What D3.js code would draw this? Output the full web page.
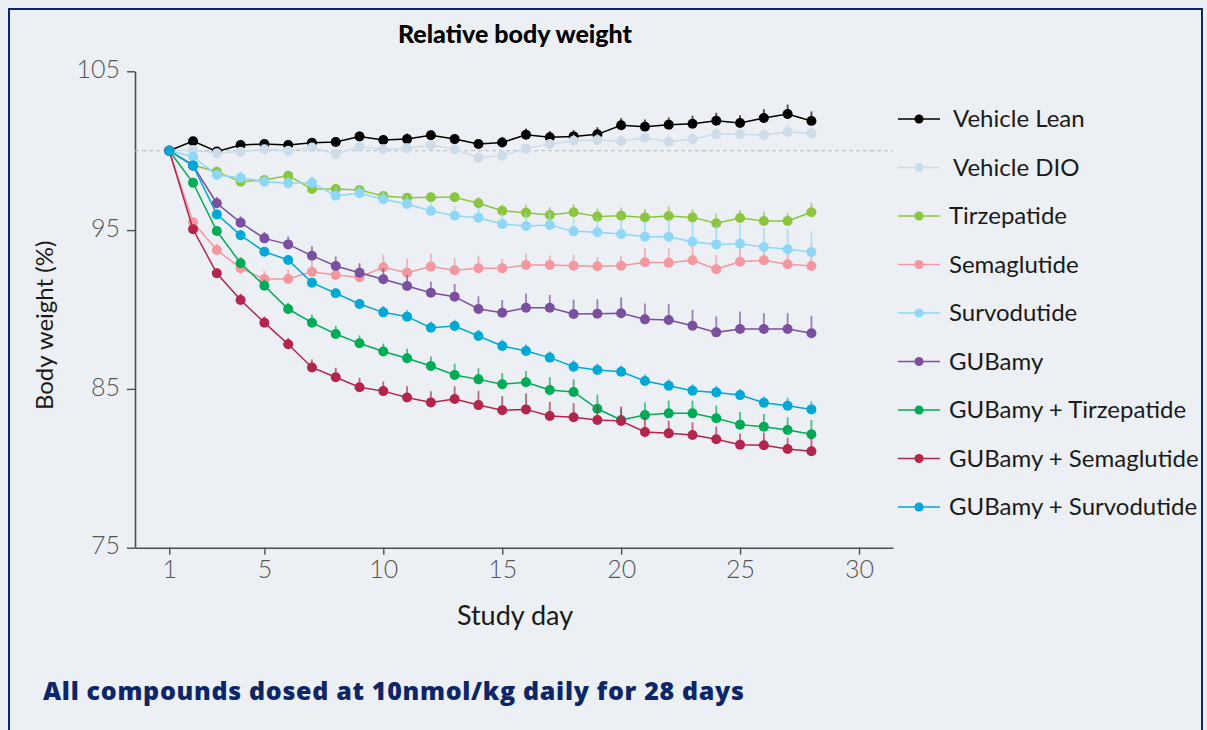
<!DOCTYPE html>
<html>
<head>
<meta charset="utf-8">
<script src="https://cdn.jsdelivr.net/npm/d3@7"></script>
<style>
  body { margin: 0; background: #ecf0f5; }
  text { font-family: Lato, "Open Sans", sans-serif; }
</style>
</head>
<body>
<script>
var width = 1207;
var height = 730;

// study days 1..28
var days = [1,2,3,4,5,6,7,8,9,10,11,12,13,14,15,16,17,18,19,20,21,22,23,24,25,26,27,28];

var seriesNames = ["Vehicle Lean","Vehicle DIO","Tirzepatide","Semaglutide","Survodutide","GUBamy",
  "GUBamy + Tirzepatide","GUBamy + Semaglutide","GUBamy + Survodutide"];
var seriesColors = ["#000000","#cddce8","#8cc63f","#f4979f","#8fd7f6","#7a4f9f","#00ab56","#b3254a","#00a8d6"];

// body weight relative to day 1 (%)
var vehicleLean = [100,100.6,99.95,100.36,100.42,100.36,100.5,100.55,100.9,100.67,100.73,100.97,100.73,100.42,100.52,101.0,100.84,100.9,101.03,101.6,101.51,101.64,101.7,101.89,101.74,102.06,102.31,101.87];
var vehicleDIO = [100,100.04,99.84,99.94,100.09,100.0,100.2,99.8,100.25,100.09,100.15,100.36,100.09,99.56,99.69,100.13,100.42,100.63,100.67,100.59,100.82,100.57,100.74,101.03,101.03,100.99,101.18,101.1];
var tirzepatide = [100,99.1,98.68,98.05,98.16,98.43,97.59,97.59,97.53,97.15,97.04,97.07,97.07,96.69,96.22,96.1,95.95,96.12,95.85,95.91,95.8,95.89,95.8,95.43,95.76,95.57,95.57,96.12];
var semaglutide = [100,95.49,93.75,92.6,91.92,91.92,92.38,92.17,92.03,92.66,92.32,92.7,92.47,92.6,92.6,92.8,92.8,92.76,92.72,92.76,92.97,92.95,93.1,92.53,93.01,93.1,92.85,92.74];
var survodutide = [100,99.62,98.47,98.3,98.05,97.95,97.98,97.17,97.32,96.94,96.64,96.2,95.91,95.78,95.38,95.26,95.32,94.92,94.86,94.75,94.58,94.58,94.27,94.1,94.14,93.94,93.79,93.62];
var gubamy = [100,99.06,96.69,95.47,94.48,94.1,93.39,92.74,92.32,91.9,91.48,91.06,90.81,90.03,89.8,90.11,90.11,89.72,89.74,89.76,89.38,89.34,88.98,88.56,88.77,88.77,88.77,88.5];
var gubamyTirz = [100,97.98,94.94,92.91,91.5,90.03,89.17,88.46,87.87,87.35,86.93,86.44,85.88,85.6,85.29,85.42,84.93,84.81,83.75,83.04,83.35,83.46,83.46,83.15,82.75,82.62,82.41,82.14];
var gubamySema = [100,95.05,92.28,90.6,89.17,87.81,86.35,85.73,85.1,84.86,84.46,84.15,84.36,83.98,83.65,83.71,83.29,83.21,83.04,82.98,82.29,82.2,82.1,81.83,81.49,81.45,81.22,81.07];
var gubamySurv = [100,99.06,95.99,94.68,93.64,93.12,91.69,91.02,90.35,89.82,89.55,88.85,88.96,88.33,87.7,87.39,86.97,86.4,86.19,86.08,85.5,85.2,84.89,84.78,84.61,84.13,83.94,83.71];

// upper error (SEM) per day
var vehicleLeanErr = [0,0.2,0.15,0.3,0.3,0.3,0.3,0.3,0.3,0.3,0.35,0.3,0.3,0.3,0.35,0.4,0.4,0.4,0.45,0.45,0.45,0.45,0.5,0.5,0.5,0.55,0.6,0.6];
var vehicleDIOErr = [0,0.2,0.2,0.3,0.3,0.3,0.3,0.3,0.3,0.3,0.3,0.3,0.3,0.3,0.3,0.3,0.3,0.4,0.4,0.4,0.4,0.4,0.4,0.4,0.4,0.4,0.5,0.5];
var tirzepatideErr = [0,0.2,0.3,0.3,0.3,0.3,0.3,0.3,0.3,0.3,0.3,0.3,0.3,0.4,0.4,0.5,0.5,0.5,0.5,0.5,0.5,0.6,0.5,0.6,0.5,0.6,0.5,0.6];
var semaglutideErr = [0,0.3,0.4,0.5,0.5,0.6,0.7,0.8,0.8,0.8,0.9,0.8,0.8,0.8,0.6,0.7,0.6,0.7,0.6,0.6,0.9,0.9,1.0,0.9,1.0,0.8,1.0,1.0];
var survodutideErr = [0,0.3,0.3,0.4,0.4,0.4,0.4,0.5,0.5,0.5,0.5,0.5,0.6,0.6,0.7,0.8,0.8,0.8,0.9,0.9,1.0,1.1,1.2,1.2,1.2,1.2,1.3,1.3];
var gubamyErr = [0,0.3,0.4,0.4,0.4,0.5,0.6,0.6,0.6,0.7,0.7,0.7,0.8,0.8,0.8,0.9,0.8,0.9,0.9,1.0,1.0,1.0,1.0,1.0,1.1,1.0,1.0,1.1];
var gubamyTirzErr = [0,0.3,0.3,0.4,0.4,0.4,0.5,0.5,0.5,0.5,0.6,0.6,0.7,0.7,0.7,0.7,0.8,0.8,0.9,0.7,0.8,0.8,0.8,0.8,0.8,0.8,0.8,0.9];
var gubamySemaErr = [0,0.3,0.3,0.4,0.4,0.4,0.5,0.6,0.6,0.6,0.7,0.7,0.8,0.9,0.9,1.0,0.9,0.9,0.9,0.9,0.9,0.8,0.8,0.8,0.7,0.8,0.7,0.9];
var gubamySurvErr = [0,0.3,0.3,0.3,0.3,0.3,0.3,0.3,0.3,0.4,0.4,0.4,0.4,0.4,0.4,0.4,0.4,0.4,0.4,0.4,0.4,0.4,0.4,0.4,0.4,0.4,0.5,0.5];

var xTicks = [1,5,10,15,20,25,30];
var yTicks = [75,85,95,105];

var allValues = [vehicleLean,vehicleDIO,tirzepatide,semaglutide,survodutide,gubamy,gubamyTirz,gubamySema,gubamySurv];
var allErrors = [vehicleLeanErr,vehicleDIOErr,tirzepatideErr,semaglutideErr,survodutideErr,gubamyErr,gubamyTirzErr,gubamySemaErr,gubamySurvErr];

var svg = d3.select("body").append("svg").attr("width",width).attr("height",height);

// panel background + border
svg.append("rect").attr("x",0).attr("y",0).attr("width",width).attr("height",height).attr("fill","#ecf0f5");
svg.append("rect").attr("x",9).attr("y",9).attr("width",1193).attr("height",740)
  .attr("fill","none").attr("stroke","#0c2668").attr("stroke-width",2);

var x = d3.scaleLinear().domain([-0.44,31.43]).range([135,893]);
var y = d3.scaleLinear().domain([75,105]).range([547.7,71.3]);

// x axis
var xAxis = svg.append("g").attr("transform","translate(0,"+y(75)+")")
  .call(d3.axisBottom(x).tickValues(xTicks).tickSize(7).tickSizeOuter(0).tickPadding(6));
xAxis.select(".domain").attr("stroke","#4d4d4d").attr("stroke-width",1.6);
xAxis.selectAll(".tick line").attr("stroke","#4d4d4d").attr("stroke-width",1.4);
xAxis.selectAll(".tick text").attr("fill","#555").attr("font-size",25).attr("font-weight",300)
  .style("font-family","Lato, sans-serif");

// y axis
var yAxis = svg.append("g").attr("transform","translate("+x(-0.44)+",0)")
  .call(d3.axisLeft(y).tickValues(yTicks).tickSize(8).tickSizeOuter(0).tickPadding(7));
yAxis.select(".domain").attr("stroke","#4d4d4d").attr("stroke-width",1.6);
yAxis.selectAll(".tick line").attr("stroke","#4d4d4d").attr("stroke-width",1.4);
yAxis.selectAll(".tick text").attr("fill","#555").attr("font-size",25).attr("font-weight",300)
  .attr("dy","0.25em").style("font-family","Lato, sans-serif");

// 100% reference line
svg.append("line").attr("x1",x(-0.44)).attr("x2",893).attr("y1",y(100)).attr("y2",y(100))
  .attr("stroke","#b5bcc3").attr("stroke-width",1).attr("stroke-dasharray","4,3");

// titles
svg.append("text").attr("x",515).attr("y",43).attr("text-anchor","middle")
  .attr("font-size",25).attr("font-weight",900).attr("fill","#000").text("Relative body weight");
svg.append("text").attr("x",515).attr("y",625).attr("text-anchor","middle")
  .attr("font-size",27).attr("fill","#1a1a1a").text("Study day");
svg.append("text").attr("transform","translate(53,"+y(89)+") rotate(-90)").attr("text-anchor","middle")
  .attr("font-size",24).attr("fill","#1a1a1a").text("Body weight (%)");
svg.append("text").attr("x",43).attr("y",700)
  .attr("font-size",25).attr("font-weight",800).attr("fill","#0c2668")
  .attr("letter-spacing",0.7)
  .style("font-family","'Open Sans', sans-serif")
  .text("All compounds dosed at 10nmol/kg daily for 28 days");

// series
var line = d3.line().x(function(d){ return x(d.day); }).y(function(d){ return y(d.v); });

allValues.forEach(function(vals, i){
  var pts = days.map(function(d, j){ return {day:d, v:vals[j], e:allErrors[i][j]}; });
  var g = svg.append("g");
  g.selectAll("line.err").data(pts).enter().append("line")
    .attr("x1",function(d){ return x(d.day); }).attr("x2",function(d){ return x(d.day); })
    .attr("y1",function(d){ return y(d.v); }).attr("y2",function(d){ return y(d.v + d.e); })
    .attr("stroke",seriesColors[i]).attr("stroke-width",1.8).attr("stroke-opacity",0.7);
  g.append("path").datum(pts).attr("d",line).attr("fill","none")
    .attr("stroke",seriesColors[i]).attr("stroke-width",1.5);
  g.selectAll("circle").data(pts).enter().append("circle")
    .attr("cx",function(d){ return x(d.day); }).attr("cy",function(d){ return y(d.v); })
    .attr("r",5).attr("fill",seriesColors[i]);
});

// legend
var legend = svg.append("g").attr("transform","translate(898,119)");
var rows = legend.selectAll("g").data(seriesNames).enter().append("g")
  .attr("transform",function(d,i){ return "translate(0,"+(i*48.5)+")"; });
rows.append("line").attr("x1",0).attr("x2",42).attr("y1",0).attr("y2",0)
  .attr("stroke",function(d,i){ return seriesColors[i]; }).attr("stroke-width",1.5);
rows.append("circle").attr("cx",21).attr("cy",0).attr("r",4.5)
  .attr("fill",function(d,i){ return seriesColors[i]; });
rows.append("text").attr("x",function(d,i){ return i < 2 ? 55 : 51; }).attr("y",0).attr("dy","0.35em")
  .attr("font-size",24).attr("fill","#1a1a1a").text(function(d){ return d; });
</script>
</body>
</html>
